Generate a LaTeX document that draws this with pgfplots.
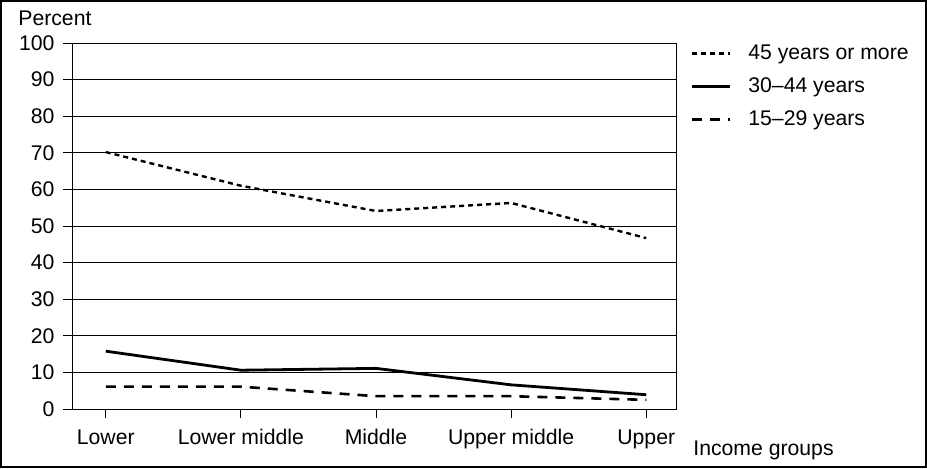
\documentclass[border=0pt]{standalone}
\usepackage{fontspec}
\setmainfont{Liberation Sans}
\usepackage{pgfplots}
\pgfplotsset{compat=1.18}

\begin{document}
\fontsize{10.6}{12}\selectfont
\begin{tikzpicture}
% outer frame
\draw[line width=1.2pt] (0.6pt,0.6pt) rectangle (462.9pt,233.4pt);
\node[anchor=west, inner sep=0] at (9pt,225pt) {Percent};
\node[anchor=west, inner sep=0] at (346.5pt,9pt) {Income groups};
\begin{axis}[
  at={(36pt,29.5pt)}, anchor=south west,
  scale only axis,
  width=302pt, height=183pt,
  xmin=-0.25, xmax=4.22,
  ymin=0, ymax=100,
  ytick={0,10,...,100},
  xtick={0,1,2,3,4},
  xticklabels={Lower,Lower middle,Middle,Upper middle,Upper},
  xtick pos=bottom, ytick pos=left,
  tick align=outside,
  major tick length=4.5pt,
  tick style={black, line width=0.5pt},
  axis line style={black, line width=0.5pt},
  ymajorgrids,
  grid style={black, line width=0.4pt},
  /pgf/number format/assume math mode=true,
  xticklabel style={font=\fontsize{10.6}{12}\selectfont, yshift=-2pt},
  yticklabel style={font=\fontsize{10.6}{12}\selectfont, xshift=-0.5pt},
  legend style={at={(1.0235,1.0)}, anchor=north west, draw=none, fill=none,
    font=\fontsize{10.6}{12}\selectfont, row sep=6.5pt, inner sep=0pt,
    nodes={inner sep=0pt, text height=8pt, text depth=2pt},
    legend cell align=left},
  legend image code/.code={\draw[#1] (0pt,0pt) -- (19pt,0pt);},
  /tikz/every odd column/.append style={column sep=8.5pt},
]
\addplot[black, line width=1.2pt, dash pattern=on 2.5pt off 2pt] coordinates {
  (0,70.2) (1,61) (2,54.1) (3,56.3) (4,46.7)};
\addlegendentry{45 years or more}
\addplot[black, line width=1.4pt] coordinates {
  (0,15.8) (1,10.6) (2,11.1) (3,6.6) (4,3.9)};
\addlegendentry{30--44 years}
\addplot[black, line width=1.3pt, dash pattern=on 5pt off 4pt] coordinates {
  (0,6.1) (1,6.1) (2,3.5) (3,3.5) (4,2.5)};
\addlegendentry{15--29 years}
\end{axis}
\end{tikzpicture}
\end{document}
